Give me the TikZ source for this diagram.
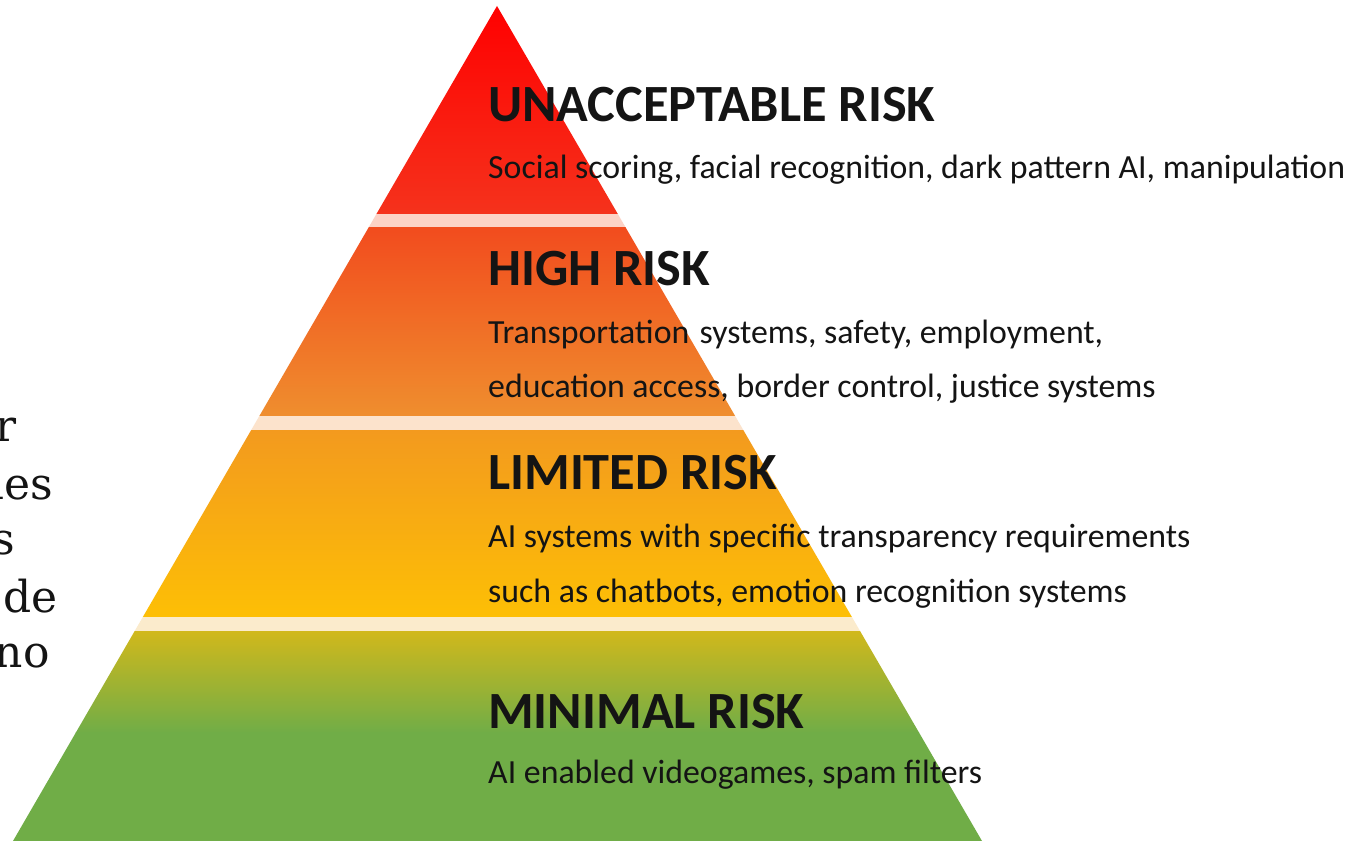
\documentclass[tikz,border=0pt]{standalone}
\usepackage{fontspec}
\setmainfont{Carlito}
\newfontfamily\slabfont{DejaVu Serif}
\definecolor{segAtop}{RGB}{255,0,0}
\definecolor{segAbot}{RGB}{245,50,28}
\definecolor{segBtop}{RGB}{242,76,30}
\definecolor{segBbot}{RGB}{239,142,46}
\definecolor{segCtop}{RGB}{243,154,30}
\definecolor{segCbot}{RGB}{253,191,5}
\definecolor{segDtop}{RGB}{208,184,28}
\definecolor{segDbot}{RGB}{112,173,71}
\definecolor{stripeA}{RGB}{252,210,198}
\definecolor{stripeB}{RGB}{252,227,204}
\definecolor{stripeC}{RGB}{251,235,204}
\definecolor{inkdark}{RGB}{20,20,20}
\begin{document}
\begin{tikzpicture}[x=1pt,y=1pt,
  title/.style={anchor=base west, inner sep=0pt, font=\bfseries\fontsize{52.3}{60}\selectfont, text=inkdark},
  body/.style={anchor=base west, inner sep=0pt, font=\fontsize{33.8}{40}\selectfont, text=inkdark},
  side/.style={anchor=base east, inner sep=0pt, font=\slabfont\fontsize{44}{52}\selectfont, text=inkdark}]
\useasboundingbox (0,0) rectangle (1365,843);
\fill[white] (0,0) rectangle (1365,843);
\coordinate (apex) at (497,837);
\coordinate (bl) at (13,2);
\coordinate (br) at (982,2);
\begin{scope}
  \clip (apex) -- (bl) -- (br) -- cycle;
  \shade[top color=segAtop, bottom color=segAbot] (0,629) rectangle (1000,840);
  \fill[stripeA] (0,615) rectangle (1000,629);
  \shade[top color=segBtop, bottom color=segBbot] (0,427) rectangle (1000,615);
  \fill[stripeB] (0,412) rectangle (1000,427);
  \shade[top color=segCtop, bottom color=segCbot] (0,226) rectangle (1000,412);
  \fill[stripeC] (0,211) rectangle (1000,226);
  \shade[top color=segDtop, bottom color=segDbot] (0,110) rectangle (1000,211);
  \fill[segDbot] (0,0) rectangle (1000,110.5);
\end{scope}
\node[title] (t1) at (488,721) {UNACCEPTABLE RISK};
\node[body] (b1) at (488,664) {Social scoring, facial recognition, dark pattern AI, manipulation};
\node[title] (t2) at (488,557) {HIGH RISK};
\node[body] (b2a) at (488,499) {Transportation\hspace{0.08em} systems, safety, employment,};
\node[body] (b2b) at (488,445) {education access, border control, justice systems};
\node[title] (t3) at (488,353) {LIMITED RISK};
\node[body] (b3a) at (488,295) {AI systems with specific transparency requirements};
\node[body] (b3b) at (488,240) {such as chatbots, emotion recognition systems};
\node[title] (t4) at (488,114) {MINIMAL RISK};
\node[body] (b4) at (488,59) {AI enabled videogames, spam filters};
\node[side] (s1) at (17,401) {r};
\node[side] (s2) at (53,343) {les};
\node[side] (s3) at (15,288) {s};
\node[side] (s4) at (58,230) {de};
\node[side] (s5) at (50,175) {no};
\end{tikzpicture}
\end{document}
